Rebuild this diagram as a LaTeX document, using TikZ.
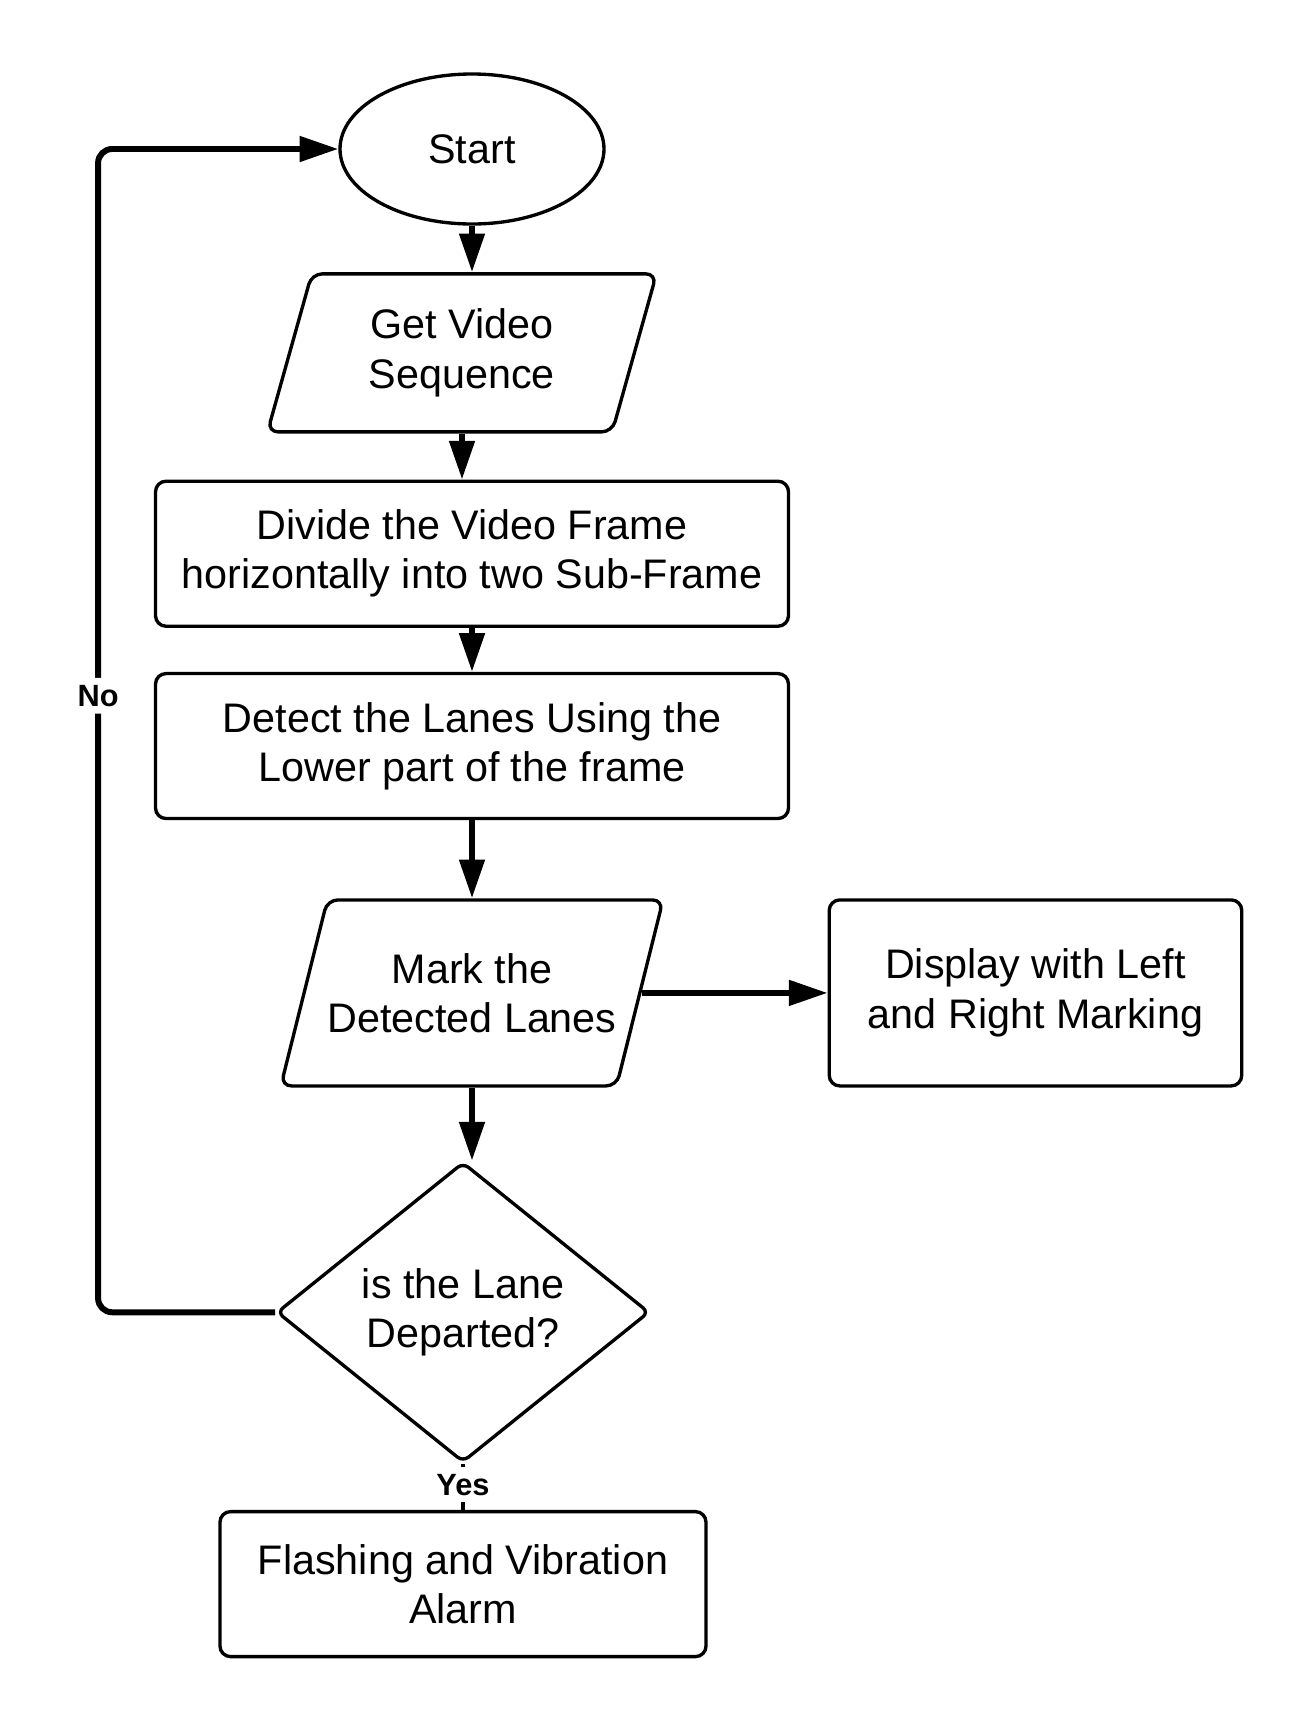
\documentclass[tikz,border=0pt]{standalone}
\usepackage{fontspec}
\setmainfont{Liberation Sans}
\usetikzlibrary{positioning, shapes.geometric, arrows.meta}

\begin{document}
\begin{tikzpicture}
    % Styles
    \tikzset{
        block/.style={rectangle, draw, line width=1.9pt, rounded corners=6pt, align=center, minimum width=12.66cm, minimum height=2.9cm, font=\fontsize{23.5}{28}\selectfont},
        terminal/.style={ellipse, draw, line width=1.9pt, minimum width=5.28cm, minimum height=3cm, font=\fontsize{23.5}{28}\selectfont},
        io_box/.style={trapezium, trapezium stretches body, draw, line width=1.9pt, rounded corners=6pt, align=center, font=\fontsize{23.5}{28}\selectfont},
        decision/.style={diamond, draw, line width=1.9pt, rounded corners=4pt, aspect=1.245, minimum width=7.45cm, minimum height=6cm, align=center, font=\fontsize{23.5}{28}\selectfont},
        connector/.style={line width=3.4pt, -{Triangle[length=22pt, width=14pt]}},
        label_text/.style={font=\bfseries\fontsize{17.5}{20}\selectfont, fill=white, inner xsep=1.5pt, inner ysep=4pt}
    }

    \useasboundingbox (0,0) rectangle (26.32,-34.66);

    % --- Nodes ---

    % Start
    \node[terminal] (start) at (9.44,-2.98) {Start};

    % Input: video
    \node[io_box, trapezium left angle=66, trapezium right angle=114, minimum width=7.78cm, minimum height=3.16cm, below=0.93cm of start, xshift=-0.2cm] (get_video) {Get Video\\Sequence};

    % Processing steps
    \node[block, below=0.92cm of get_video, xshift=0.2cm] (divide_frame) {Divide the Video Frame\\horizontally into two Sub-Frame};
    \node[block, below=0.88cm of divide_frame] (detect_lanes) {Detect the Lanes Using the\\Lower part of the frame};

    % Output: marked lanes
    \node[io_box, trapezium left angle=63, trapezium right angle=117, inner xsep=0pt, minimum width=7.38cm, minimum height=3.72cm, below=1.56cm of detect_lanes] (mark_lanes) {Mark the\\Detected Lanes};
    \node[block, minimum width=8.25cm, minimum height=3.72cm, right=3.72cm of mark_lanes] (display_marking) {Display with Left\\and Right Marking};

    % Decision
    \node[decision, below=1.46cm of mark_lanes, xshift=-0.18cm] (lane_check) {is the Lane\\Departed?};

    % Alarm
    \node[block, minimum width=9.72cm, below=0.92cm of lane_check] (alarm) {Flashing and Vibration\\Alarm};

    % --- Connections ---

    \draw[connector] (start.south) -- (start.south |- get_video.north);
    \draw[connector] (get_video.south) -- (get_video.south |- divide_frame.north);
    \draw[connector] (divide_frame.south) -- (detect_lanes.north);
    \draw[connector] (detect_lanes.south) -- (detect_lanes.south |- mark_lanes.north);
    \draw[connector] (mark_lanes.east) -- (display_marking.west);
    \draw[connector] (mark_lanes.south) -- (mark_lanes.south |- lane_check.north);

    % Yes branch
    \draw[line width=1.9pt] (lane_check.south) -- node[label_text, pos=0.45] {Yes} (alarm.north);

    % No branch loops back to start
    \coordinate[left=3.54cm of lane_check.west] (loop_corner);
    \draw[connector, rounded corners=8pt] (lane_check.west) -- (loop_corner) |- node[label_text, pos=0.265] {No} (start.west);

\end{tikzpicture}
\end{document}
